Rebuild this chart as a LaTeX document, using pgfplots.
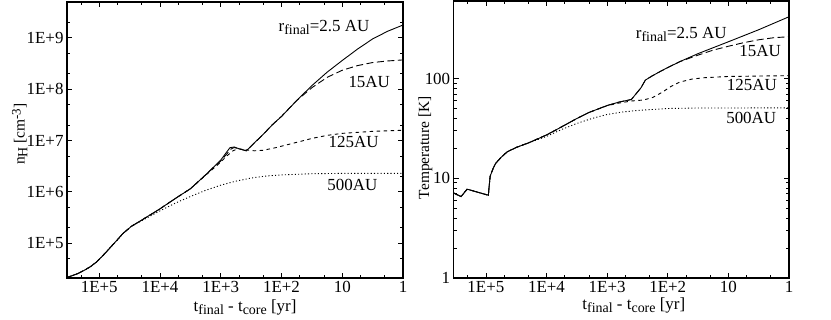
\documentclass[border=0pt]{standalone}
\usepackage{fontspec}
\setmainfont{Liberation Serif}
\usepackage{pgfplots}
\pgfplotsset{compat=1.18}
\newcommand\lbl{\fontsize{17}{19}\selectfont}
\newcommand\ylbl{\fontsize{15.5}{17}\selectfont}
\newcommand\mysub[1]{\raisebox{-0.4ex}{\fontsize{14}{15}\selectfont #1}}
\newcommand\mysup[1]{\raisebox{0.55ex}{\fontsize{13}{14}\selectfont #1}}
\begin{document}
\begin{tikzpicture}
\path[use as bounding box] (0bp,0bp) rectangle (831bp,320bp);
% ---------------- left panel ----------------
\begin{axis}[
  scale only axis,
  xmode=log, ymode=log,
  x dir=reverse,
  xmin=1, xmax=3.4e5,
  xtick={1e5,1e4,1e3,100,10,1},
  xticklabels={1E+5,1E+4,1E+3,1E+2,10,1},
  minor xtick={2,5,20,50,200,500,2000,5000,2e4,5e4,2e5},
  tick align=inside,
  major tick length=5bp, minor tick length=3bp,
  axis line style={line width=1.5bp},
  tick style={line width=0.8bp, black},
  tick label style={font=\lbl},
  at={(67bp,42bp)}, anchor=south west,
  width=336bp, height=276bp,
  ymin=2.1e4, ymax=5e9,
  ytick={1e5,1e6,1e7,1e8,1e9},
  yticklabels={1E+5,1E+6,1E+7,1E+8,1E+9},
  minor ytick={5e4,2e5,5e5,2e6,5e6,2e7,5e7,2e8,5e8,2e9},
  clip=false,
]
\addplot[line width=0.9bp, black, solid] coordinates {
(3.43e5,2.14e4)(2.82e5,2.32e4)(2.24e5,2.57e4)(1.78e5,2.95e4)(1.41e5,3.47e4)
(1.12e5,4.27e4)(9.77e4,5.01e4)(7.94e4,6.46e4)(6.31e4,8.71e4)(5.01e4,1.175e5)
(4.07e4,1.55e5)(3.39e4,1.86e5)(2.95e4,2.14e5)(2.51e4,2.40e5)(2.0e4,2.82e5)
(1.66e4,3.24e5)(1.26e4,3.94e5)(1e4,4.68e5)(5.62e3,7.41e5)(3.16e3,1.15e6)
(1.78e3,2.14e6)(1000,4.17e6)(794,6.03e6)(708,7.24e6)(603,7.5e6)(501,6.92e6)
(380,6.31e6)(282,8.91e6)(200,1.32e7)(141,2.04e7)(100,2.95e7)(56.2,6.03e7)
(31.6,1.175e8)(17.8,2.14e8)(10,3.63e8)(5.62,6.03e8)(3.16,9.55e8)(1.78,1.35e9)(1,1.78e9)};
\addplot[line width=0.9bp, black, dash pattern=on 7bp off 3.5bp] coordinates {
(3.43e5,2.14e4)(2.82e5,2.32e4)(2.24e5,2.57e4)(1.78e5,2.95e4)(1.41e5,3.47e4)
(1.12e5,4.27e4)(9.77e4,5.01e4)(7.94e4,6.46e4)(6.31e4,8.71e4)(5.01e4,1.175e5)
(4.07e4,1.55e5)(3.39e4,1.86e5)(2.95e4,2.14e5)(2.51e4,2.40e5)(2.0e4,2.82e5)
(1.66e4,3.24e5)(1.26e4,3.94e5)(1e4,4.68e5)(5.62e3,7.41e5)(3.16e3,1.15e6)
(1.78e3,2.14e6)(1000,4.0e6)(794,5.5e6)(680,6.8e6)(603,7.3e6)(501,6.92e6)
(380,6.31e6)(282,8.91e6)(200,1.32e7)(141,2.04e7)(100,2.95e7)(56.2,6.03e7)
(31.6,1.07e8)(17.8,1.70e8)(10,2.34e8)(5.62,2.88e8)(3.16,3.31e8)(1.78,3.55e8)(1,3.72e8)};
\addplot[line width=0.9bp, black, dash pattern=on 3.5bp off 3.5bp] coordinates {
(3.43e5,2.14e4)(2.82e5,2.32e4)(2.24e5,2.57e4)(1.78e5,2.95e4)(1.41e5,3.47e4)
(1.12e5,4.27e4)(9.77e4,5.01e4)(7.94e4,6.46e4)(6.31e4,8.71e4)(5.01e4,1.175e5)
(4.07e4,1.55e5)(3.39e4,1.86e5)(2.95e4,2.14e5)(2.51e4,2.40e5)(2.0e4,2.82e5)
(1.66e4,3.24e5)(1.26e4,3.94e5)(1e4,4.68e5)(5.62e3,7.41e5)(3.16e3,1.15e6)
(1.78e3,2.10e6)(1000,3.80e6)(794,5.01e6)(631,6.31e6)(525,6.92e6)(398,6.61e6)
(282,6.31e6)(200,6.46e6)(126,7.24e6)(79.4,8.32e6)(50.1,9.55e6)(31.6,1.10e7)
(17.8,1.26e7)(10,1.38e7)(3.16,1.51e7)(1,1.585e7)};
\addplot[line width=0.9bp, black, dash pattern=on 1.1bp off 2.2bp] coordinates {
(3.43e5,2.14e4)(2.82e5,2.32e4)(2.24e5,2.57e4)(1.78e5,2.95e4)(1.41e5,3.47e4)
(1.12e5,4.27e4)(9.77e4,5.01e4)(7.94e4,6.46e4)(6.31e4,8.71e4)(5.01e4,1.175e5)
(4.07e4,1.55e5)(3.39e4,1.86e5)(2.95e4,2.14e5)(2.51e4,2.37e5)(1.78e4,2.95e5)
(1e4,4.27e5)(5.62e3,6.03e5)(3.16e3,8.13e5)(1.78e3,1.07e6)(1000,1.35e6)
(562,1.62e6)(316,1.86e6)(178,2.04e6)(100,2.14e6)(31.6,2.26e6)(10,2.29e6)(1,2.29e6)};
\node[font=\lbl] at (axis cs:20,1.57e9) {r\mysub{final}=2.5 AU};
\node[font=\lbl] at (axis cs:3.6,1.38e8) {15AU};
\node[font=\lbl] at (axis cs:6.5,9.3e6) {125AU};
\node[font=\lbl] at (axis cs:6.8,1.35e6) {500AU};
\node[font=\ylbl, rotate=90, anchor=center] at (axis cs:2.04e6,1.33e7) {n\mysub{H} [cm\mysup{-3}]};
\node[font=\lbl, anchor=center] at (axis cs:398,5.57e3) {t\mysub{final} - t\mysub{core} [yr]};
\end{axis}
% ---------------- right panel ----------------
\begin{axis}[
  scale only axis,
  xmode=log, ymode=log,
  x dir=reverse,
  xmin=1, xmax=3.4e5,
  xtick={1e5,1e4,1e3,100,10,1},
  xticklabels={1E+5,1E+4,1E+3,1E+2,10,1},
  minor xtick={2,5,20,50,200,500,2000,5000,2e4,5e4,2e5},
  tick align=inside,
  major tick length=5bp, minor tick length=3bp,
  axis line style={line width=1.5bp},
  tick style={line width=0.8bp, black},
  tick label style={font=\lbl},
  at={(453.7bp,42bp)}, anchor=south west,
  width=335.3bp, height=277bp,
  ymin=1, ymax=600,
  ytick={1,10,100},
  yticklabels={1,10,100},
  clip=false,
]
\addplot[line width=0.9bp, black, solid] coordinates {
(3.39e5,7.10)(2.57e5,6.56)(2.04e5,7.78)(9.12e4,6.76)(8.91e4,7.94)(8.51e4,10.5)
(7.59e4,12.6)(6.92e4,14.1)(5.62e4,16.2)(4.47e4,18.4)(3.16e4,20.4)(2.0e4,22.6)
(1e4,27.2)(6.31e3,31.6)(3.16e3,39.8)(2.0e3,45.7)(1000,53.7)(631,58.2)(398,61.7)
(331,70.8)(276,81)(234,96.6)(178,107)(126,120)(100,129)(63.1,148)(31.6,178)
(10,234)(3.16,309)(1,417)};
\addplot[line width=0.9bp, black, dash pattern=on 7bp off 3.5bp] coordinates {
(3.39e5,7.10)(2.57e5,6.56)(2.04e5,7.78)(9.12e4,6.76)(8.91e4,7.94)(8.51e4,10.5)
(7.59e4,12.6)(6.92e4,14.1)(5.62e4,16.2)(4.47e4,18.4)(3.16e4,20.4)(2.0e4,22.6)
(1e4,27.2)(6.31e3,31.6)(3.16e3,39.8)(2.0e3,45.7)(1000,53.7)(631,58.2)(398,61.7)
(331,70.8)(276,81)(234,96.6)(178,107)(126,120)(100,129)(63.1,148)(31.6,172)
(17.8,193)(10,211)(5.62,229)(3.16,245)(1.78,257)(1,263)};
\addplot[line width=0.9bp, black, dash pattern=on 3.5bp off 3.5bp] coordinates {
(3.39e5,7.10)(2.57e5,6.56)(2.04e5,7.78)(9.12e4,6.76)(8.91e4,7.94)(8.51e4,10.5)
(7.59e4,12.6)(6.92e4,14.1)(5.62e4,16.2)(4.47e4,18.4)(3.16e4,20.4)(2.0e4,22.6)
(1e4,27.2)(6.31e3,31.6)(3.16e3,39.8)(2.0e3,45.7)(1000,53.5)(631,56.9)(398,59.6)
(251,61.0)(178,64.6)(126,72.4)(89.1,83.2)(63.1,92.3)(39.8,98.9)(25.1,102)
(10,105)(3.16,106)(1,107)};
\addplot[line width=0.9bp, black, dash pattern=on 1.1bp off 2.2bp] coordinates {
(3.39e5,7.10)(2.57e5,6.56)(2.04e5,7.78)(9.12e4,6.76)(8.91e4,7.94)(8.51e4,10.5)
(7.59e4,12.6)(6.92e4,14.1)(5.62e4,16.2)(4.47e4,18.4)(3.16e4,20.4)(2.0e4,22.6)
(1e4,26.3)(5.62e3,30.9)(3.16e3,35.5)(1.78e3,39.8)(1000,43.7)(562,46.2)(316,47.9)
(178,49.0)(100,50.1)(31.6,50.7)(1,50.8)};
\node[font=\lbl] at (axis cs:60,277) {r\mysub{final}=2.5 AU};
\node[font=\lbl] at (axis cs:3.0,187) {15AU};
\node[font=\lbl] at (axis cs:4.1,87) {125AU};
\node[font=\lbl] at (axis cs:4.2,40.7) {500AU};
\node[font=\ylbl, rotate=90, anchor=center] at (axis cs:1e6,20.3) {Temperature [K]};
\node[font=\lbl, anchor=center] at (axis cs:363,0.536) {t\mysub{final} - t\mysub{core} [yr]};
\end{axis}
\end{tikzpicture}
\end{document}
